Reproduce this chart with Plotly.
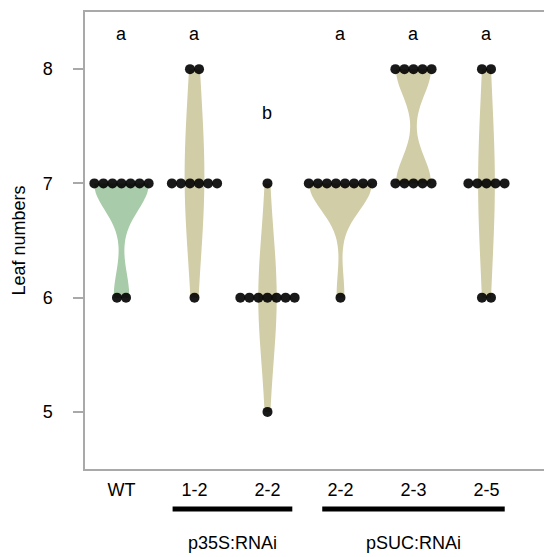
import plotly.graph_objects as go

# ---------------- data ----------------
tick_labels = ["WT", "1-2", "2-2", "2-2", "2-3", "2-5"]
leaf_WT = [7, 7, 7, 7, 7, 7, 7, 6, 6]
leaf_p35S_1_2 = [8, 8, 7, 7, 7, 7, 7, 7, 6]
leaf_p35S_2_2 = [7, 6, 6, 6, 6, 6, 6, 6, 5]
leaf_pSUC_2_2 = [7, 7, 7, 7, 7, 7, 7, 7, 6]
leaf_pSUC_2_3 = [8, 8, 8, 8, 8, 7, 7, 7, 7, 7]
leaf_pSUC_2_5 = [8, 8, 7, 7, 7, 7, 7, 6, 6]
sig_letters = ["a", "a", "b", "a", "a", "a"]
group_names = ["p35S:RNAi", "pSUC:RNAi"]

series = [leaf_WT, leaf_p35S_1_2, leaf_p35S_2_2, leaf_pSUC_2_2, leaf_pSUC_2_3, leaf_pSUC_2_5]

# ---------------- style ----------------
FONT = "Liberation Sans, Arial, sans-serif"
GREEN = "#A8CBA9"
KHAKI = "#D1CDA7"
fills = [GREEN, KHAKI, KHAKI, KHAKI, KHAKI, KHAKI]
bandwidths = [0.235, 0.65, 0.55, 0.2368, 0.23, 0.6]
violin_widths = [0.75, 0.27, 0.25, 0.86, 0.48, 0.23]
letter_y = {"a": 8.31, "b": 7.62}
dot_step = 0.124
AXIS_COLOR = "#A9A9A9"

fig = go.Figure()

for i, vals in enumerate(series):
    fig.add_trace(go.Violin(
        x=[i] * len(vals), y=vals,
        fillcolor=fills[i], line=dict(width=0, color=fills[i]),
        opacity=1, points=False, spanmode="hard",
        bandwidth=bandwidths[i], scalemode="width",
        width=violin_widths[i], hoverinfo="skip", showlegend=False,
        box_visible=False, meanline_visible=False,
    ))

# beeswarm-like dot placement computed from the data
dx, dy = [], []
for i, vals in enumerate(series):
    for v in sorted(set(vals)):
        k = vals.count(v)
        for j in range(k):
            dx.append(i + (j - (k - 1) / 2) * dot_step)
            dy.append(v)
fig.add_trace(go.Scatter(
    x=dx, y=dy, mode="markers",
    marker=dict(color="rgba(0,0,0,0.9)", size=10, line=dict(width=0)),
    hoverinfo="skip", showlegend=False,
))

# significance letters
for i, lt in enumerate(sig_letters):
    fig.add_annotation(x=i, y=letter_y[lt], xref="x", yref="y", text=lt,
                       showarrow=False, font=dict(family=FONT, size=18, color="black"))

# group bars and labels
bars = [(0.70, 2.34), (2.75, 5.25)]
for (x0, x1), name in zip(bars, group_names):
    fig.add_shape(type="line", xref="x", yref="paper", x0=x0, x1=x1,
                  y0=-0.0875, y1=-0.0875, line=dict(color="black", width=5))
    fig.add_annotation(x=(x0 + x1) / 2, y=-0.162, xref="x", yref="paper",
                       text=name, showarrow=False, yanchor="middle",
                       font=dict(family=FONT, size=18, color="black"))

fig.update_layout(
    width=544, height=557,
    margin=dict(l=85, r=0, t=12, b=88),
    paper_bgcolor="white", plot_bgcolor="white",
    font=dict(family=FONT, size=18, color="black"),
    violingap=0, violinmode="overlay",
    xaxis=dict(
        range=[-0.5, 5.788], tickmode="array", tickvals=list(range(6)),
        ticktext=tick_labels, showgrid=False, zeroline=False,
        showline=True, linecolor=AXIS_COLOR, linewidth=1.5, mirror=True,
        ticks="", ticklabelstandoff=4,
        tickfont=dict(family=FONT, size=18, color="black"),
    ),
    yaxis=dict(
        range=[4.5, 8.5], tickvals=[5, 6, 7, 8], showgrid=False, zeroline=False,
        showline=True, linecolor=AXIS_COLOR, linewidth=1.5,
        ticks="outside", ticklen=10, tickcolor=AXIS_COLOR, tickwidth=1.5,
        ticklabelstandoff=17,
        tickfont=dict(family=FONT, size=18, color="black"),
        title=dict(text="Leaf numbers", standoff=12,
                   font=dict(family=FONT, size=18, color="black")),
    ),
)

fig.write_html("out.html")
